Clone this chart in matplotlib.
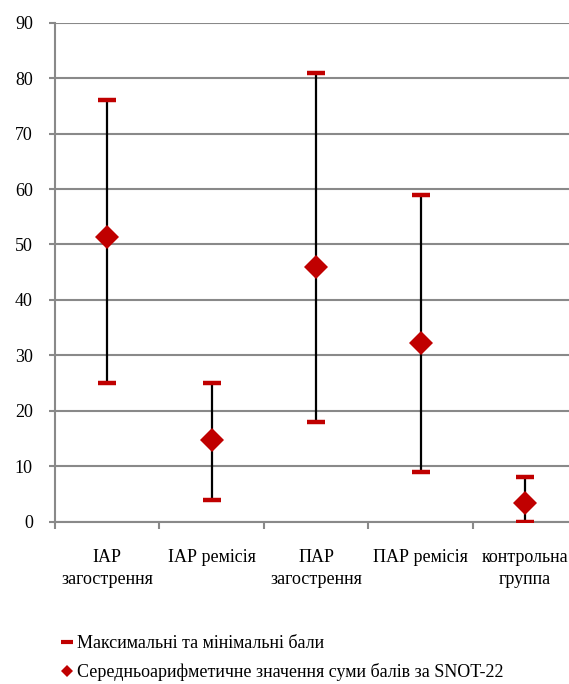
import matplotlib
matplotlib.use("Agg")
import matplotlib.pyplot as plt
from matplotlib.lines import Line2D

categories = ["ІАР\nзагострення", "ІАР ремісія", "ПАР\nзагострення", "ПАР ремісія", "контрольна\nгруппа"]
max_vals = [76, 25, 81, 59, 8]
min_vals = [25, 4, 18, 9, 0]
mean_vals = [51.3, 14.8, 46.0, 32.3, 3.4]
y_ticks = [0, 10, 20, 30, 40, 50, 60, 70, 80, 90]

plt.rcParams['font.family'] = ['Liberation Serif', 'DejaVu Serif']
RED = "#C00000"
GRID = "#898989"

fig = plt.figure(figsize=(5.69, 6.84), dpi=100)
ax = fig.add_axes([0.0967, 0.2373, 0.918, 0.7295])
x = list(range(len(categories)))

ax.vlines(x, min_vals, max_vals, colors="black", linewidth=1.6, zorder=3)
ax.plot(x, max_vals, linestyle="none", marker="_", markersize=13, markeredgewidth=3.2, color=RED, zorder=4)
ax.plot(x, min_vals, linestyle="none", marker="_", markersize=13, markeredgewidth=3.2, color=RED, zorder=4)
ax.plot(x, mean_vals, linestyle="none", marker="D", markersize=12.6, color=RED, markeredgewidth=0, zorder=5)

ax.set_xlim(-0.5, len(categories) - 0.5)
ax.set_ylim(0, 90)
ax.set_yticks(y_ticks)
ax.set_yticklabels([str(v) for v in y_ticks], fontsize=13)
ax.yaxis.grid(True, color=GRID, linewidth=1.5)
ax.set_axisbelow(True)
ax.tick_params(axis="y", length=4, width=1.5, color=GRID, pad=12)

ax.set_xticks(x)
ax.set_xticklabels(categories, fontsize=13, linespacing=1.32)
ax.set_xticks([i - 0.5 for i in range(len(categories) + 1)], minor=True)
ax.tick_params(axis="x", which="major", length=0, pad=20)
ax.tick_params(axis="x", which="minor", length=5, width=1.5, color=GRID)

for s in ["top", "right"]:
    ax.spines[s].set_visible(False)
ax.spines["left"].set_color(GRID)
ax.spines["left"].set_linewidth(1.5)
ax.spines["bottom"].set_color(GRID)
ax.spines["bottom"].set_linewidth(1.5)

handles = [
    Line2D([], [], linestyle="none", marker="_", markersize=8, markeredgewidth=3, color=RED),
    Line2D([], [], linestyle="none", marker="D", markersize=6.2, markeredgewidth=0, color=RED),
]
labels = ["Максимальні та мінімальні бали", "Середньоарифметичне значення суми балів за SNOT-22"]
fig.legend(handles, labels, loc="upper left", bbox_to_anchor=(0.106, 0.0715),
           frameon=False, fontsize=13, handlelength=0.7, handletextpad=0.2,
           labelspacing=0.62, borderaxespad=0, borderpad=0)

fig.savefig("out.png", dpi=100)
